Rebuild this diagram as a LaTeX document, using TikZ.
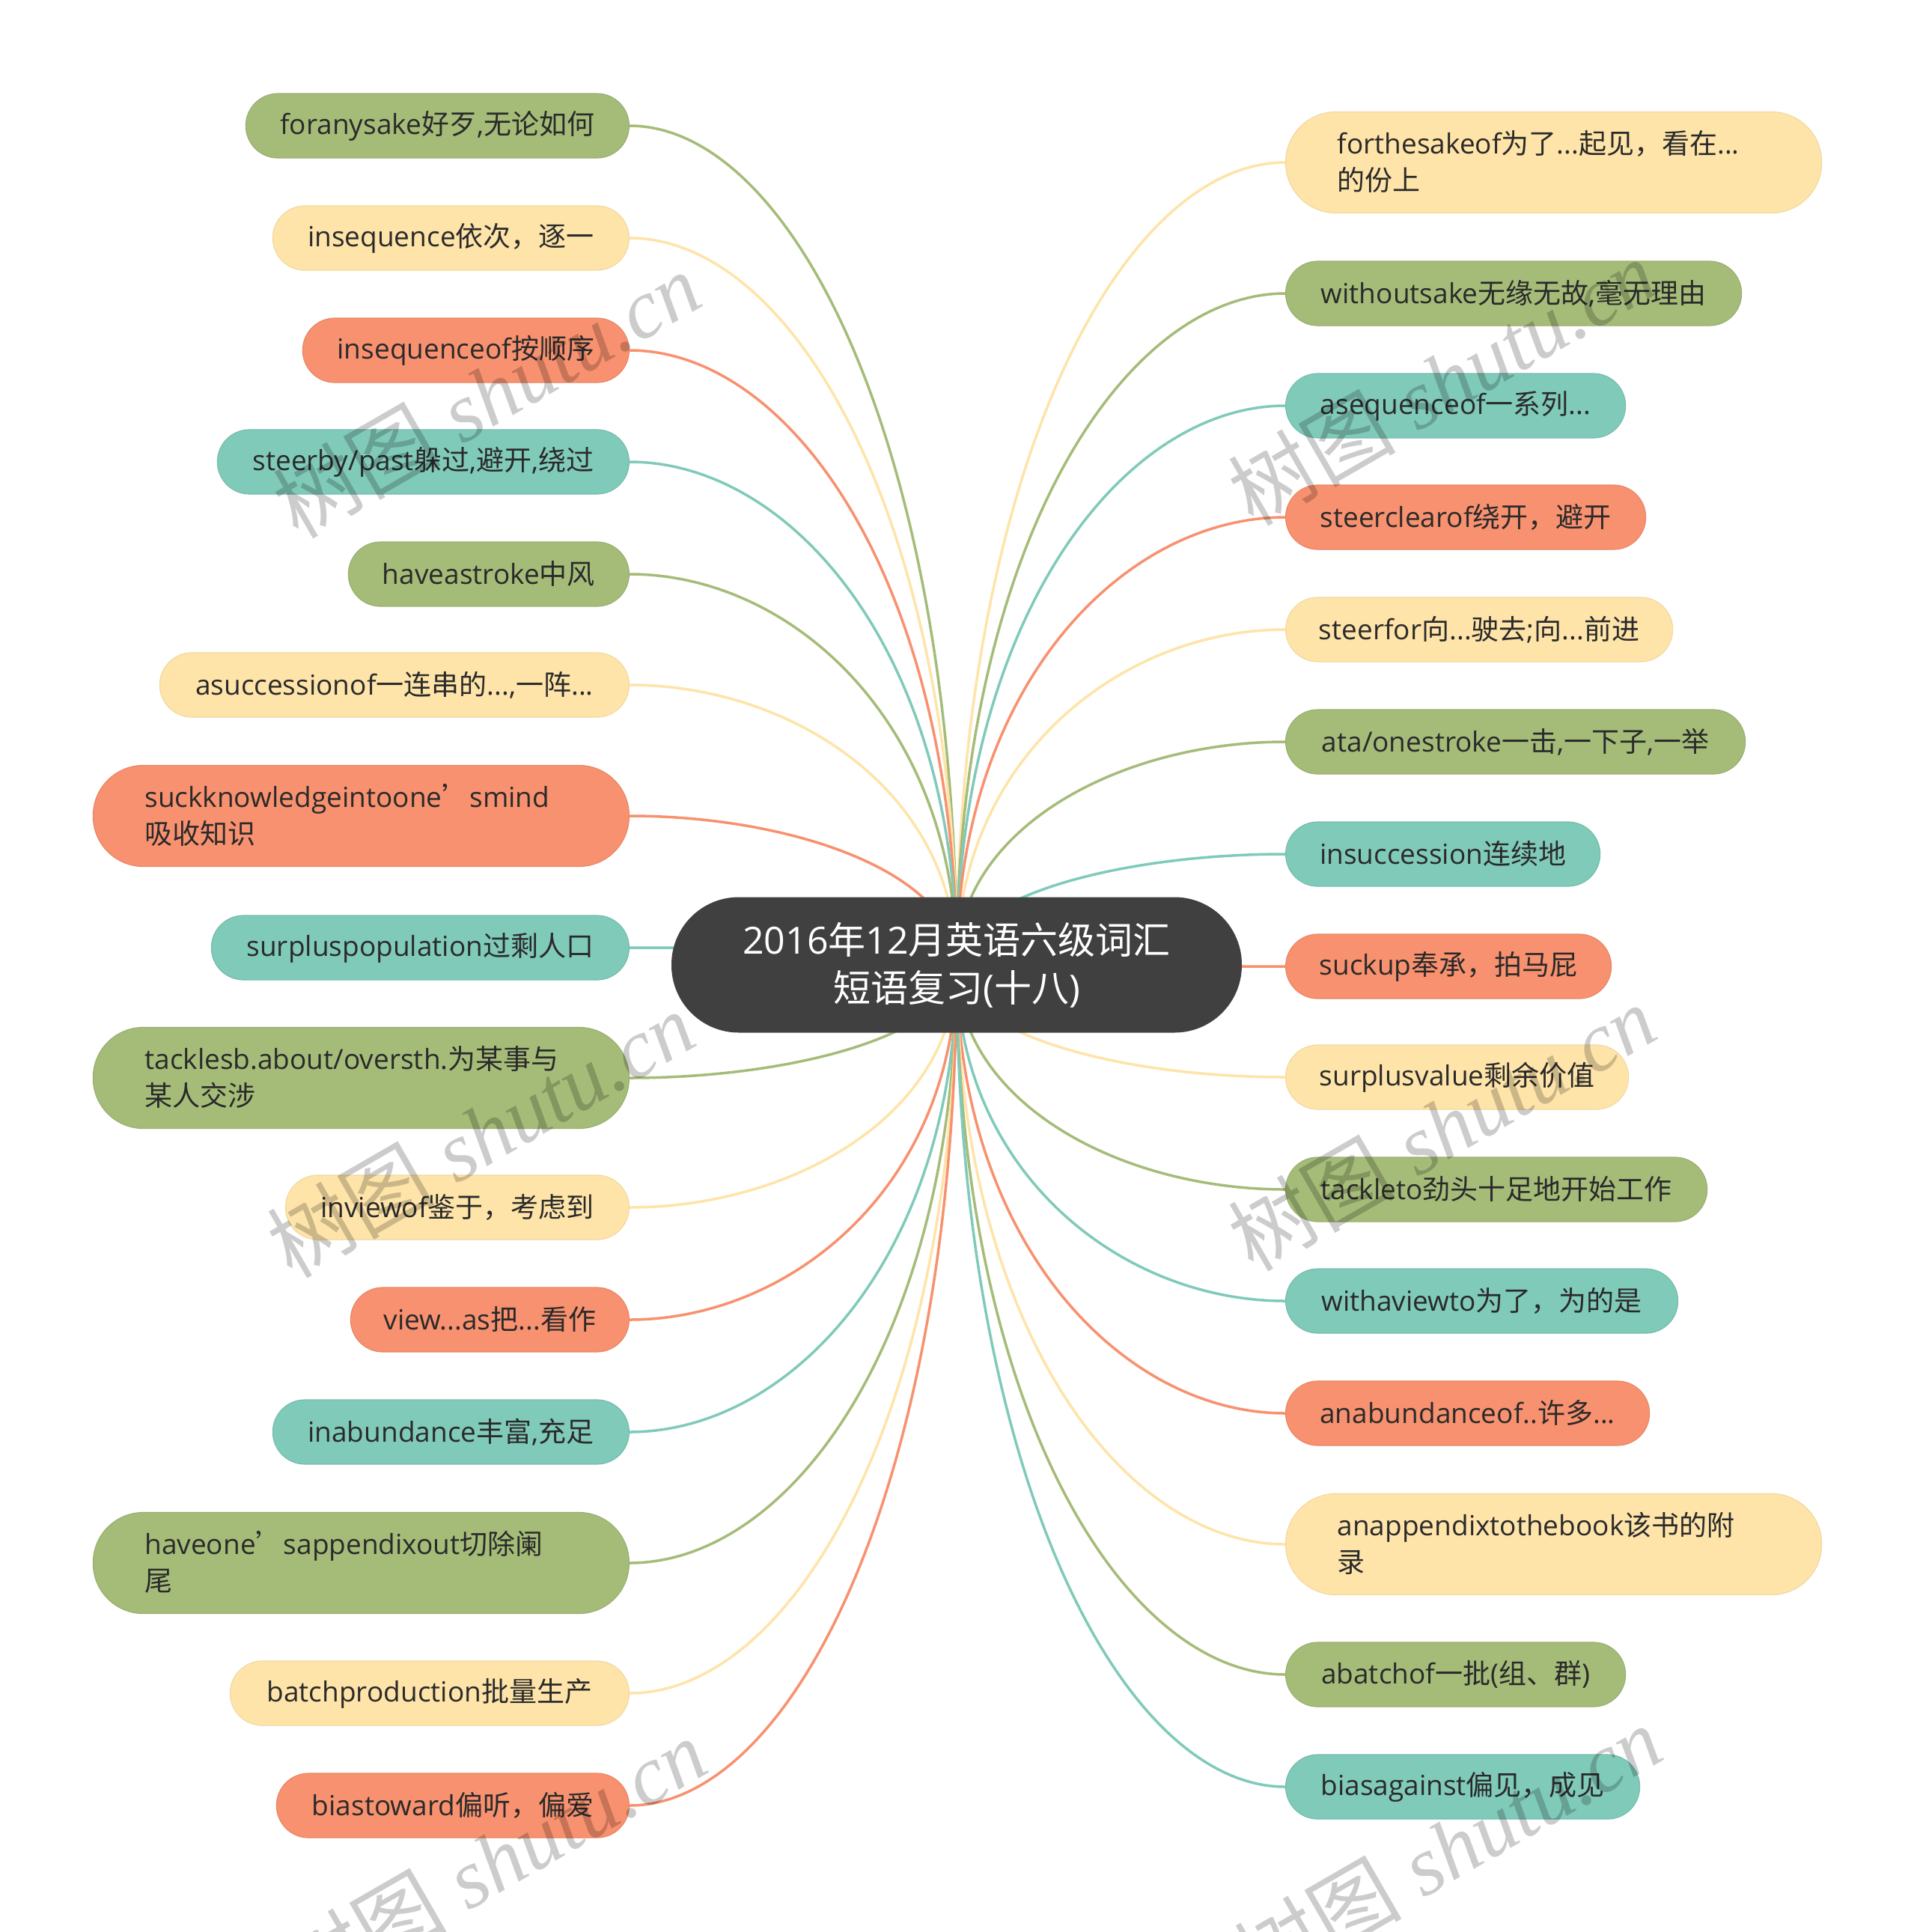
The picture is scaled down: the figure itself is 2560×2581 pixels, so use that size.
\documentclass[tikz,border=0pt]{standalone}
\usepackage{fontspec}
\setmainfont{Open Sans}
\newfontfamily\zhf{Noto Sans CJK SC}
\newfontfamily\wmf{Liberation Serif}
\newcommand\zh[1]{{\zhf #1}}
\newcommand\sth{\rule{0pt}{30pt}}
\newcommand\std{\rule[-5pt]{0pt}{5pt}}
\usetikzlibrary{calc,backgrounds}
\definecolor{cgreen}{HTML}{A5BC79}
\definecolor{cyellow}{HTML}{FEE4A9}
\definecolor{corange}{HTML}{F8916F}
\definecolor{cteal}{HTML}{80CABA}
\definecolor{cdark}{HTML}{404040}
\definecolor{txt}{HTML}{2A2A2A}
\tikzset{
  leaf/.style={rounded corners=42.9pt, minimum height=86pt, inner sep=0pt,
    font=\fontsize{37}{49}\selectfont, text=txt, line width=1.2pt},
  leafL/.style={leaf, anchor=east},
  leafR/.style={leaf, anchor=west},
  two/.style={minimum height=135pt, rounded corners=67pt, text width=578pt, align=left},
  gn/.style={fill=cgreen, draw=cgreen!93!black},
  yl/.style={fill=cyellow, draw=cyellow!95!black},
  or/.style={fill=corange, draw=corange!93!black},
  tl/.style={fill=cteal, draw=cteal!93!black},
  link/.style={line width=3.5pt},
  wmark/.style={rotate=30, text=black, text opacity=0.2, font=\fontsize{112}{112}\selectfont}
}
\newcommand\conn[2]{\draw[link,#1] let \p1=(#2), \p2=(ctr.center) in
  (\p1) .. controls ({0.5*\x1+0.5*\x2},\y1) and (\x2,{0.615*\y1+0.385*\y2}) .. (\p2);}
\begin{document}
\begin{tikzpicture}[x=1pt,y=-1pt]
\useasboundingbox (0,0) rectangle (2560,2581);
% center
\node[fill=cdark, rounded corners=90pt, minimum width=762pt, minimum height=181pt,
  inner sep=0pt, text=white, align=center, font=\fontsize{50}{64}\selectfont] (ctr) at (1278,1289)
  {\rule{0pt}{40pt}2016\zh{年}12\zh{月英语六级词汇}\\\zh{短语复习}(\zh{十八})\rule[-7pt]{0pt}{7pt}};
% left
\node[leafL,gn,minimum width=512pt] (L1) at (841,168) {\sth\std foranysake\zh{好歹},\zh{无论如何}};
\node[leafL,yl,minimum width=476pt] (L2) at (841,318) {\sth\std insequence\zh{依次，逐一}};
\node[leafL,or,minimum width=436pt] (L3) at (841,468) {\sth\std insequenceof\zh{按顺序}};
\node[leafL,tl,minimum width=550pt] (L4) at (841,617) {\sth\std steerby/past\zh{躲过},\zh{避开},\zh{绕过}};
\node[leafL,gn,minimum width=375pt] (L5) at (841,767) {\sth\std haveastroke\zh{中风}};
\node[leafL,yl,minimum width=627pt] (L6) at (841,915) {\sth\std asuccessionof\zh{一连串的}...,\zh{一阵}...};
\node[leafL,or,two,minimum width=716pt] (L7) at (841,1090) {\sth suckknowledgeintoone\zh{’}smind\\\zh{吸收知识}\std};
\node[leafL,tl,minimum width=558pt] (L8) at (841,1266) {\sth\std surpluspopulation\zh{过剩人口}};
\node[leafL,gn,two,minimum width=716pt] (L9) at (841,1440) {\sth tacklesb.about/oversth.\zh{为某事与}\\\zh{某人交涉}\std};
\node[leafL,yl,minimum width=459pt] (L10) at (841,1613) {\sth\std inviewof\zh{鉴于，考虑到}};
\node[leafL,or,minimum width=372pt] (L11) at (841,1763) {\sth\std view...as\zh{把}...\zh{看作}};
\node[leafL,tl,minimum width=476pt] (L12) at (841,1913) {\sth\std inabundance\zh{丰富},\zh{充足}};
\node[leafL,gn,two,minimum width=716pt] (L13) at (841,2088) {\sth haveone\zh{’}sappendixout\zh{切除阑}\\\zh{尾}\std};
\node[leafL,yl,minimum width=533pt] (L14) at (841,2262) {\sth\std batchproduction\zh{批量生产}};
\node[leafL,or,minimum width=471pt] (L15) at (841,2412) {\sth\std biastoward\zh{偏听，偏爱}};
% right
\node[leafR,yl,two,minimum width=716pt] (R1) at (1717,217) {\sth forthesakeof\zh{为了}...\zh{起见，看在}...\\\zh{的份上}\std};
\node[leafR,gn,minimum width=609pt] (R2) at (1717,392) {\sth\std withoutsake\zh{无缘无故},\zh{毫无理由}};
\node[leafR,tl,minimum width=454pt] (R3) at (1717,542) {\sth\std asequenceof\zh{一系列}...};
\node[leafR,or,minimum width=481pt] (R4) at (1717,691) {\sth\std steerclearof\zh{绕开，避开}};
\node[leafR,yl,minimum width=517pt] (R5) at (1717,841) {\sth\std steerfor\zh{向}...\zh{驶去};\zh{向}...\zh{前进}};
\node[leafR,gn,minimum width=614pt] (R6) at (1717,991) {\sth\std ata/onestroke\zh{一击},\zh{一下子},\zh{一举}};
\node[leafR,tl,minimum width=420pt] (R7) at (1717,1141) {\sth\std insuccession\zh{连续地}};
\node[leafR,or,minimum width=435pt] (R8) at (1717,1291) {\sth\std suckup\zh{奉承，拍马屁}};
\node[leafR,yl,minimum width=458pt] (R9) at (1717,1439) {\sth\std surplusvalue\zh{剩余价值}};
\node[leafR,gn,minimum width=563pt] (R10) at (1717,1589) {\sth\std tackleto\zh{劲头十足地开始工作}};
\node[leafR,tl,minimum width=524pt] (R11) at (1717,1738) {\sth\std withaviewto\zh{为了，为的是}};
\node[leafR,or,minimum width=486pt] (R12) at (1717,1888) {\sth\std anabundanceof..\zh{许多}...};
\node[leafR,yl,two,minimum width=716pt] (R13) at (1717,2063) {\sth anappendixtothebook\zh{该书的附}\\\zh{录}\std};
\node[leafR,gn,minimum width=454pt] (R14) at (1717,2237) {\sth\std abatchof\zh{一批}(\zh{组、群})};
\node[leafR,tl,minimum width=473pt] (R15) at (1717,2387) {\sth\std biasagainst\zh{偏见，成见}};
% connectors
\begin{pgfonlayer}{background}
\fill[white] (0,0) rectangle (2560,2581);
\conn{cgreen}{L1.east}
\conn{cyellow}{L2.east}
\conn{corange}{L3.east}
\conn{cteal}{L4.east}
\conn{cgreen}{L5.east}
\conn{cyellow}{L6.east}
\conn{corange}{L7.east}
\conn{cteal}{L8.east}
\conn{cgreen}{L9.east}
\conn{cyellow}{L10.east}
\conn{corange}{L11.east}
\conn{cteal}{L12.east}
\conn{cgreen}{L13.east}
\conn{cyellow}{L14.east}
\conn{corange}{L15.east}
\conn{cyellow}{R1.west}
\conn{cgreen}{R2.west}
\conn{cteal}{R3.west}
\conn{corange}{R4.west}
\conn{cyellow}{R5.west}
\conn{cgreen}{R6.west}
\conn{cteal}{R7.west}
\conn{corange}{R8.west}
\conn{cyellow}{R9.west}
\conn{cgreen}{R10.west}
\conn{cteal}{R11.west}
\conn{corange}{R12.west}
\conn{cyellow}{R13.west}
\conn{cgreen}{R14.west}
\conn{cteal}{R15.west}
\end{pgfonlayer}
% watermarks
\node[wmark] (wm1) at (650,527) {\zh{树图} {\wmf\itshape shutu.cn}};
\node[wmark] (wm2) at (1926,510) {\zh{树图} {\wmf\itshape shutu.cn}};
\node[wmark] (wm3) at (642,1515) {\zh{树图} {\wmf\itshape shutu.cn}};
\node[wmark] (wm4) at (1926,1506) {\zh{树图} {\wmf\itshape shutu.cn}};
\node[wmark] (wm5) at (658,2486) {\zh{树图} {\wmf\itshape shutu.cn}};
\node[wmark] (wm6) at (1934,2469) {\zh{树图} {\wmf\itshape shutu.cn}};
\end{tikzpicture}
\end{document}
